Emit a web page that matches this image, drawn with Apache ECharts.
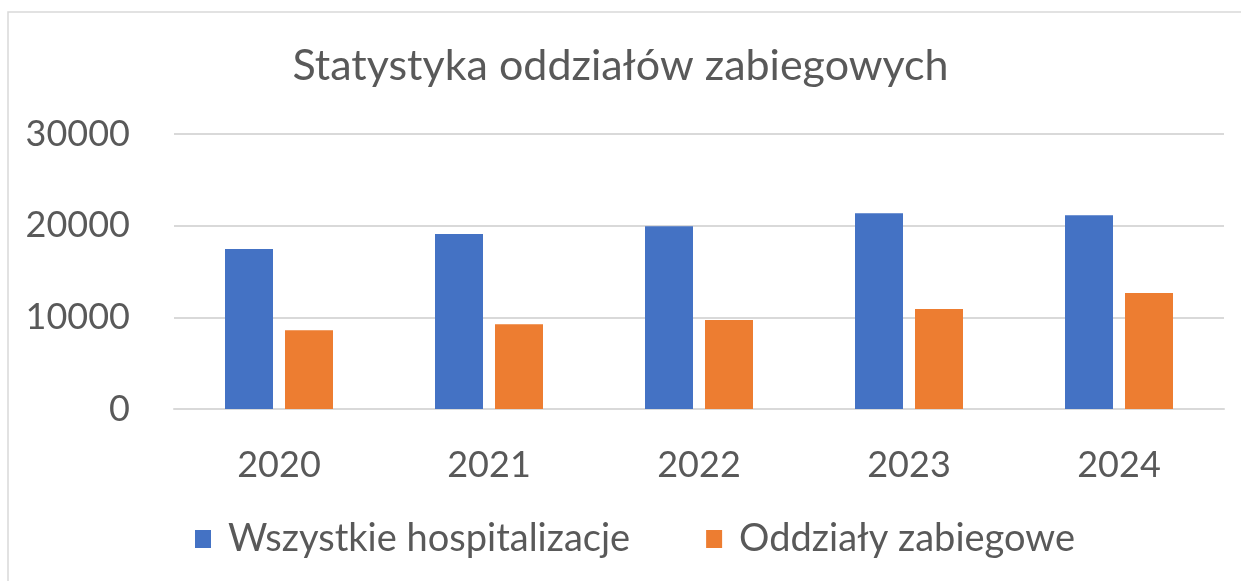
<!DOCTYPE html>
<html><head><meta charset="utf-8">
<script src="https://cdn.jsdelivr.net/npm/echarts@6/dist/echarts.min.js"></script>
<style>html,body{margin:0;padding:0;background:#fff}#c{width:1241px;height:581px}</style>
</head><body><div id="c"></div>
<script>
const title = 'Statystyka oddziałów zabiegowych';
const categories = ['2020', '2021', '2022', '2023', '2024'];
const seriesNames = ['Wszystkie hospitalizacje', 'Oddziały zabiegowe'];
const allHosp = [17450, 19100, 19950, 21350, 21150];
const surgical = [8600, 9250, 9700, 10900, 12650];
const yTicks = [0, 10000, 20000, 30000];

const font = 'Lato, "Open Sans", sans-serif';
const txt = '#595959';
const chart = echarts.init(document.getElementById('c'), null, {renderer: 'canvas'});
chart.setOption({
  animation: false,
  backgroundColor: '#ffffff',
  title: {text: title, left: 'center', top: 40,
    textStyle: {fontFamily: font, fontSize: 43, fontWeight: 'normal', color: txt}},
  legend: {bottom: 18, left: 190, itemWidth: 16, itemHeight: 18, itemGap: 76,
    icon: 'rect', textStyle: {fontFamily: font, fontSize: 38, color: txt, padding: [0, 0, 0, 12]}},
  grid: {left: 174, right: 17, top: 134, bottom: 172, containLabel: false},
  xAxis: {type: 'category', data: categories,
    axisLine: {lineStyle: {color: '#d9d9d9', width: 2}}, axisTick: {show: false},
    axisLabel: {fontFamily: font, fontSize: 36, color: txt, margin: 38}},
  yAxis: {type: 'value', min: yTicks[0], max: yTicks[yTicks.length - 1], interval: 10000,
    axisLine: {show: false}, axisTick: {show: false},
    splitLine: {lineStyle: {color: '#d9d9d9', width: 2}},
    axisLabel: {fontFamily: font, fontSize: 36, color: txt, margin: 44,
      formatter: v => String(v)}},
  series: [
    {name: seriesNames[0], type: 'bar', data: allHosp, barWidth: 48, barGap: '25%',
     itemStyle: {color: '#4472c4'}},
    {name: seriesNames[1], type: 'bar', data: surgical, barWidth: 48,
     itemStyle: {color: '#ed7d31'}}
  ],
  graphic: [{type: 'rect', shape: {x: 8, y: 12, width: 1240, height: 580},
    style: {fill: null, stroke: '#d9d9d9', lineWidth: 1.5}, silent: true}]
});
</script></body></html>
